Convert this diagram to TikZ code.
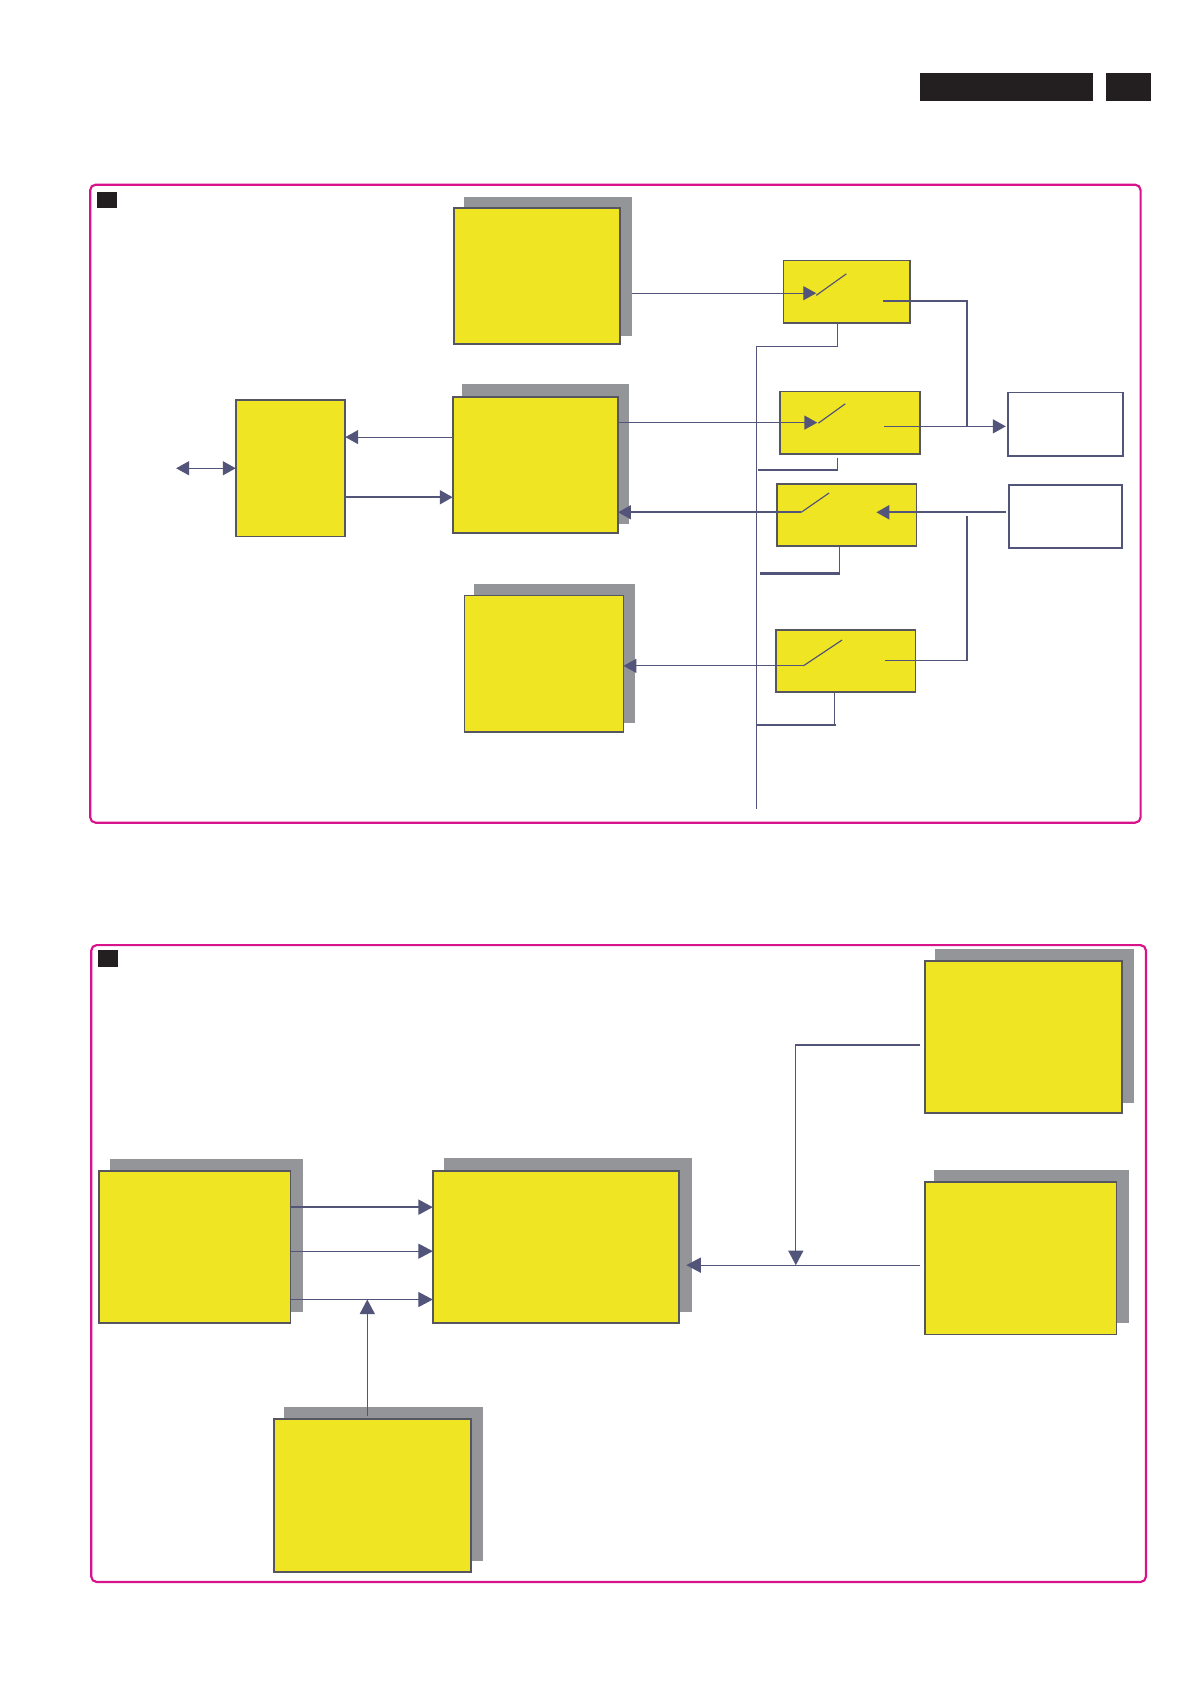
\documentclass[tikz,border=0pt]{standalone}
\usetikzlibrary{arrows.meta}
\definecolor{blockyellow}{HTML}{F0E522}
\definecolor{shadowgray}{HTML}{939598}
\definecolor{edgegray}{HTML}{55565F}
\definecolor{wireblue}{HTML}{52547A}
\definecolor{framepink}{HTML}{D8128A}
\definecolor{tagblack}{HTML}{231F20}
\begin{document}
\begin{tikzpicture}[
    x=1pt, y=-1pt,
    every node/.style={inner sep=0pt, outer sep=0pt, anchor=north west},
    block/.style={draw=edgegray, fill=blockyellow, line width=1.7pt},
    swbox/.style={block, line width=1.5pt},
    whitebox/.style={draw=wireblue, fill=white, line width=1.5pt},
    shade/.style={fill=shadowgray},
    tag/.style={fill=tagblack},
    frame/.style={draw=framepink, line width=2pt, rounded corners=5pt},
    wire/.style={draw=wireblue, line width=1.1pt},
    wirethick/.style={draw=wireblue, line width=1.9pt},
    arr/.style={wire, -{Triangle[length=12pt,width=13pt]}, wireblue},
    arrthick/.style={wirethick, -{Triangle[length=12pt,width=13pt]}, wireblue},
    arrbig/.style={wire, -{Triangle[length=13.5pt,width=14pt]}, wireblue},
    arrbigthick/.style={wirethick, -{Triangle[length=13.5pt,width=14pt]}, wireblue},
  ]
    \useasboundingbox (0,0) rectangle (1108,1568);

    % === Page header bars and frames ===
    \foreach \nm/\xa/\ya/\xb/\yb in {headA/856.5/68/1018/94, headB/1030/68/1072/94, tagA/90/179/109/194, tagB/91/885/110/900} {
      \node[tag, minimum width={(\xb-\xa)*1pt}, minimum height={(\yb-\ya)*1pt}] (\nm) at (\xa,\ya) {};
    }
    \node[frame, minimum width=978pt, minimum height=594pt] (frameA) at (84,172) {};
    \node[frame, minimum width=982pt, minimum height=593pt] (frameB) at (85,880) {};

    % Shadows behind the large blocks
    \foreach \nm/\xa/\ya/\xb/\yb in {shTop/432/183/588/313, shMid/430/358/586/488, shLow/441/544/591/673,
        shSrc/102/1079/282/1222, shDec/413/1078/644/1222, shAux/264/1310/450/1453, shRa/871/884/1056/1027, shRb/870/1089/1051/1232} {
      \node[shade, minimum width={(\xb-\xa)*1pt}, minimum height={(\yb-\ya)*1pt}] (\nm) at (\xa,\ya) {};
    }

    % === Blocks ===
    \foreach \nm/\xa/\ya/\xb/\yb in {top/422/193/578/321, mid/421/369/576/497, low/432/554/581/682, left/219/372/322/500,
        src/92/1090/271/1232, dec/403/1090/633/1232, aux/255/1321/439/1464, ra/861/894/1045/1037, rb/861/1100/1040/1243} {
      \node[block, minimum width={(\xb-\xa-1)*1pt}, minimum height={(\yb-\ya-1)*1pt}] (\nm) at (\xa+0.5,\ya+0.5) {};
    }
    \foreach \nm/\xa/\ya/\xb/\yb in {swA/729/242/848/301, swB/726/364/857/423, swC/723/450/854/509, swD/722/586/853/645} {
      \node[swbox, minimum width={(\xb-\xa-1)*1pt}, minimum height={(\yb-\ya-1)*1pt}] (\nm) at (\xa+0.5,\ya+0.5) {};
    }
    \node[whitebox, minimum width=107pt, minimum height=59pt] (outA) at (938.5,365.5) {};
    \node[whitebox, minimum width=105pt, minimum height=59pt] (outB) at (939.5,451.5) {};

    % Switch arms
    \foreach \nm/\xa/\ya/\xb/\yb in {A/760/275/788/255, B/762/394/787/376, C/746/477/772/459, D/748/620/784/596} {
      \coordinate (pin\nm) at (\xa,\ya);
      \coordinate (tip\nm) at (\xb,\yb);
      \draw[wire] (pin\nm) -- (tip\nm);
    }

    % Signal paths
    \coordinate (inA) at (760,273);
    \coordinate (inB) at (761,393.5);
    \coordinate (endC) at (816,477);
    \coordinate (endAr) at (822,280);
    \coordinate (endBr) at (823,397);
    \coordinate (endDr) at (824,615);
    \coordinate (joinUp) at (900,397);
    \coordinate (joinDn) at (900,480);
    \coordinate (kneeDr) at (900,615);
    \draw[arr] (shTop.east |- inA) -- (inA);
    \draw[arr] (mid.east |- inB) -- (inB);
    \draw[arrthick] (pinC) -- (mid.east |- pinC);
    \draw[arr] (pinD) -- (low.east |- pinD);
    \draw[arrthick, shorten <=3pt] (outB.west |- endC) -- (endC);
    \draw[arr, shorten >=2pt] (endBr) -- (outA.west |- endBr);
    \draw[wirethick] (endAr) -| (joinUp);
    \draw[wirethick] (joinDn) -- (kneeDr);
    \draw[wire] (kneeDr) -- (endDr);

    % Control lines
    \coordinate (busTop) at (704,323);
    \coordinate (busEnd) at (704,753);
    \coordinate (busB) at (706,438);
    \coordinate (busC) at (708,534);
    \coordinate (busD) at (704,675);
    \coordinate (ctlA) at (780,301);
    \coordinate (ctlB) at (780,426);
    \coordinate (ctlC) at (782,509);
    \coordinate (ctlD) at (777,645);
    \coordinate (kneeB) at (780,438);
    \coordinate (kneeC) at (782.5,534);
    \coordinate (kneeD) at (778,675);
    \draw[wire] (ctlA) |- (busTop) -- (busEnd);
    \draw[wire] (ctlB) -- (kneeB);
    \draw[wire] (ctlC) -- (ctlC |- kneeC);
    \draw[wire] (ctlD) -- (ctlD |- kneeD);
    \draw[wirethick] (kneeB) -- (busB);
    \draw[wirethick] (kneeC) -- (busC);
    \draw[wirethick] (kneeD) -- (busD);

    % Left block links
    \coordinate (lnkUp) at (421,407);
    \coordinate (lnkDn) at (421,463);
    \coordinate (extL) at (164,436);
    \draw[arr] (mid.west |- lnkUp) -- (left.east |- lnkUp);
    \draw[arrthick] (left.east |- lnkDn) -- (mid.west |- lnkDn);
    \draw[wire, {Triangle[length=12pt,width=13pt]}-{Triangle[length=12pt,width=13pt]}, wireblue] (extL) -- (left.west |- extL);

    % === Lower panel ===
    \coordinate (busTopB) at (403,1124);
    \coordinate (busMidB) at (403,1165);
    \coordinate (busLowB) at (403,1210);
    \coordinate (auxUp) at (342,1318);
    \coordinate (auxEnd) at (342,1210);
    \coordinate (raOut) at (857,973);
    \coordinate (rbOut) at (857,1178);
    \coordinate (vert) at (741,973);
    \coordinate (vertEnd) at (741,1178);
    \coordinate (decIn) at (639,1178);
    \draw[arrbigthick] (src.east |- busTopB) -- (busTopB);
    \draw[arrbig] (src.east |- busMidB) -- (busMidB);
    \draw[arrbig] (src.east |- busLowB) -- (busLowB);
    \draw[arrbig] (auxUp) -- (auxEnd);
    \draw[arrbig] (raOut) -- (vert) -- (vertEnd);
    \draw[arrbig] (rbOut) -- (decIn);
  \end{tikzpicture}
\end{document}
